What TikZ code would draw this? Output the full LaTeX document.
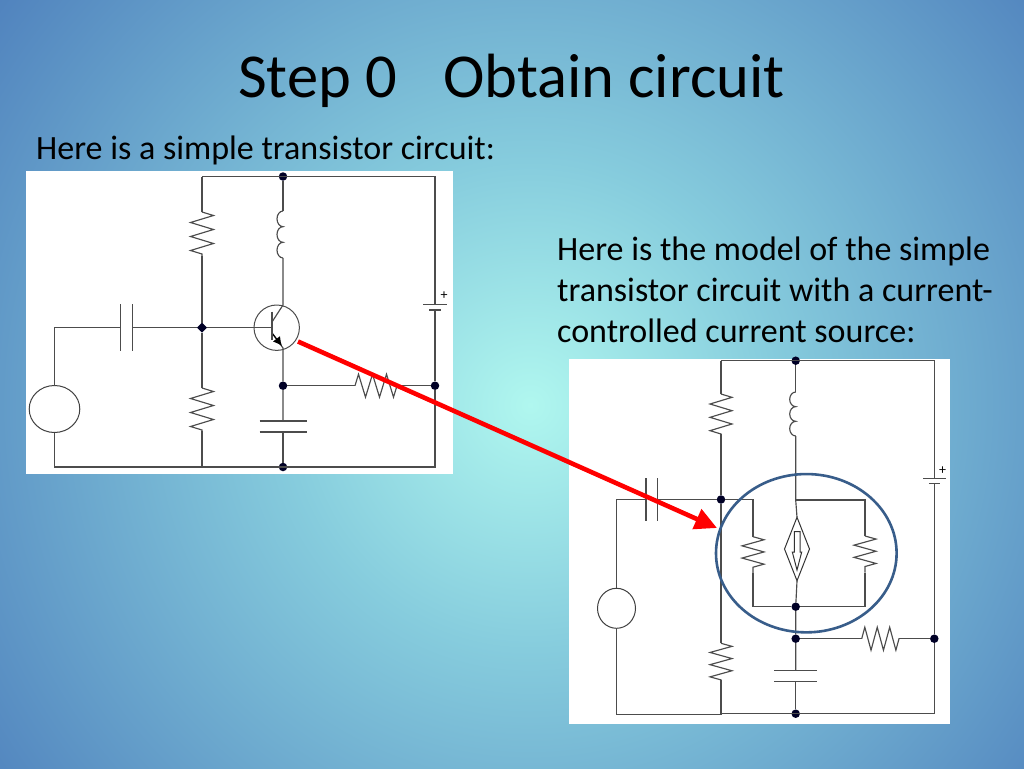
\documentclass[tikz,border=0pt]{standalone}
\usepackage{fontspec}
\setmainfont{Carlito}
\usetikzlibrary{arrows.meta,calc,decorations.pathmorphing,shapes.geometric}
\definecolor{glowin}{HTML}{B0F7EF}
\definecolor{glowmid}{HTML}{86CCDD}
\definecolor{glowout}{HTML}{4F81BD}
\definecolor{ringblue}{HTML}{385D8A}
\pgfdeclareradialshading{slideglow}{\pgfpoint{0bp}{0bp}}{
  color(0bp)=(glowin);
  color(9bp)=(glowmid);
  color(25bp)=(glowout);
  color(50bp)=(glowout)
}
\tikzstyle{wire}=[
  draw=black!70,
  line width=1.15pt,
]
\tikzstyle{dot}=[
  circle,
  fill=black!85!blue,
  inner sep=0pt,
  minimum size=8.5pt,
  outer sep=0pt,
]
\tikzstyle{source}=[
  draw=black!75,
  ellipse,
  fill=white,
  inner sep=0pt,
  line width=1pt,
  outer sep=0pt,
]
\tikzstyle{res}=[
  wire,
  decorate,
  decoration={zigzag,amplitude=11.5pt,segment length=14pt},
]
\tikzstyle{bump}=[
  start angle=270,
  end angle=90,
  x radius=6,
]
\tikzstyle{headline}=[
  anchor=base west,
  font=\fontsize{62.5}{70}\selectfont,
  inner sep=0pt,
]
\tikzstyle{bodytext}=[
  align=left,
  anchor=north west,
  font=\fontsize{34}{41}\selectfont,
  inner sep=0pt,
]
\tikzstyle{plus}=[
  font=\fontsize{14}{14}\selectfont,
  inner sep=0pt,
]
\begin{document}
\begin{tikzpicture}[x=1pt,y=-1pt]
  \useasboundingbox (0,0) rectangle (1024,768);
  \begin{scope}
    \clip (0,0) rectangle (1024,768);
    \shade [shading=slideglow] (530,405) circle (680);
  \end{scope}
  \node (title) [headline] at (238,97) {Step 0\hspace{32pt} Obtain circuit};
  \node (intro) [bodytext, anchor=base west] at (36,159) {Here is a simple transistor circuit:};
  \node (modeltext) [bodytext] at (557,236.5) {Here is the model of the simple\\transistor circuit with a current-\\controlled current source:};
  % left circuit
  \fill [white] (26,171) rectangle (453,474);
  \node (ltop) [dot] at (283,176.5) {};
  \node (lbase) [dot, diamond, minimum size=10pt] at (202,327.7) {};
  \node (lemit) [dot] at (283,385.7) {};
  \node (lbat) [dot] at (435,385.7) {};
  \node (lbot) [dot] at (283,467) {};
  \node (lsrc) [source, minimum width=50.6pt, minimum height=47pt] at (54.5,409) {};
  \coordinate (lrin) at (202,176.5);
  \coordinate (lrir) at (435,176.5);
  \coordinate (lrbl) at (54.5,467);
  \coordinate (lrbr) at (435,467);
  \coordinate (lr1a) at (202,212);
  \coordinate (lr1b) at (202,256);
  \coordinate (lr2a) at (202,388);
  \coordinate (lr2b) at (202,431);
  \coordinate (lr3a) at (355,385.7);
  \coordinate (lr3b) at (397,385.7);
  \coordinate (lc1a) at (283,211);
  \coordinate (lc1b) at (283,258);
  \coordinate (lcap1) at (120.7,327.7);
  \coordinate (lcap2) at (132.7,327.7);
  \coordinate (lcap3) at (283,421);
  \coordinate (lcap4) at (283,432);
  \coordinate (lbat1) at (435,304.3);
  \coordinate (lbat2) at (435,310);
  \coordinate (lbar) at (272,327.7);
  \coordinate (lcoll) at (283,305);
  \coordinate (lem) at (283,348);
  \coordinate (lred) at (298,341.5);
  \draw [wire] (lrin) -- (lrir) -- (lbat1);
  \draw [wire] (lbat2) -- (lbat) -- (lrbr) -- (lrbl) -- (lsrc.south);
  \draw [wire] (lsrc.north) |- (lcap1);
  \draw [wire] (lcap2) -- (lbase) -- (lbar);
  \draw [wire] (lrin) -- (lr1a);
  \draw [res] (lr1a) -- (lr1b);
  \draw [wire] (lr1b) -- (lbase) -- (lr2a);
  \draw [res] (lr2a) -- (lr2b);
  \draw [wire] (lr2b) -- (202,467);
  \draw [wire] (ltop) -- (lc1a);
  \draw [wire] (lc1a) foreach \i in {1,2,3} {arc [bump, y radius=7.83]};
  \draw [wire] (lc1b) -- (lcoll) -- (272,322);
  \draw [wire] (272,333) -- (lem) -- (lemit) -- (lcap3);
  \draw [-{Latex[length=9pt,width=9pt]}, wire, draw=black] (272,333) -- (282,346);
  \draw [wire] (lcap4) -- (lbot);
  \draw [wire] (lemit) -- (lr3a);
  \draw [res, decoration={zigzag,amplitude=11.5pt,segment length=14pt}] (lr3a) -- (lr3b);
  \draw [wire] (lr3b) -- (lbat);
  \draw [wire, line width=1pt] (276.7,327.7) circle (22.7);
  \draw [wire, line width=1.4pt] (272,311.7) -- (272,340);
  \draw [wire] ($(lcap1)+(0,-23.7)$) -- ($(lcap1)+(0,23.7)$);
  \draw [wire] ($(lcap2)+(0,-23.7)$) -- ($(lcap2)+(0,23.7)$);
  \draw [wire] ($(lcap3)+(-23.5,0)$) -- ($(lcap3)+(23.5,0)$);
  \draw [wire] ($(lcap4)+(-23.5,0)$) -- ($(lcap4)+(23.5,0)$);
  \draw [wire] ($(lbat1)+(-12,0)$) -- ($(lbat1)+(12,0)$);
  \draw [wire] ($(lbat2)+(-6,0)$) -- ($(lbat2)+(6,0)$);
  \node (lplus) [plus] at (444,296) {+};
  % right circuit
  \fill [white] (569,359) rectangle (950,724);
  \node (rtop) [dot] at (795.7,360.7) {};
  \node (rbase) [dot] at (721,499.5) {};
  \node (rmid) [dot] at (795.7,606.7) {};
  \node (remit) [dot] at (795.7,638.7) {};
  \node (rbat) [dot] at (934.3,638.7) {};
  \node (rbot) [dot] at (795.7,713.7) {};
  \node (rsrc) [source, minimum width=38pt, minimum height=40pt] at (616.5,608.3) {};
  \node (rdep) [diamond, draw=black!80, inner sep=0pt, line width=1pt, minimum width=25pt, minimum height=63.5pt, outer sep=0pt, aspect=.4] at (797,549) {};
  \coordinate (rrin) at (721,360.7);
  \coordinate (rrir) at (934.3,360.7);
  \coordinate (rrbl) at (616.5,714.5);
  \coordinate (rrbr) at (934.3,713.7);
  \coordinate (rr1a) at (721,394);
  \coordinate (rr1b) at (721,434);
  \coordinate (rr2a) at (721,643.3);
  \coordinate (rr2b) at (721,680);
  \coordinate (rr3a) at (861.7,638.7);
  \coordinate (rr3b) at (899,638.7);
  \coordinate (rr4a) at (753,536.7);
  \coordinate (rr4b) at (753,573);
  \coordinate (rr5a) at (865,536);
  \coordinate (rr5b) at (865,572.5);
  \coordinate (rc1a) at (795.7,392);
  \coordinate (rc1b) at (795.7,436);
  \coordinate (rcap1) at (646,499.5);
  \coordinate (rcap2) at (657.3,499.5);
  \coordinate (rcap3) at (795.7,670.7);
  \coordinate (rcap4) at (795.7,681.7);
  \coordinate (rbat1) at (934.3,478.3);
  \coordinate (rbat2) at (934.3,483.5);
  \coordinate (rbt) at (795.7,500);
  \draw [wire] (rrin) -- (rrir) -- (rbat1);
  \draw [wire] (rbat2) -- (rbat) -- (rrbr) -- (721,713.7);
  \draw [wire] (721,714.5) -- (rrbl) -- (rsrc.south);
  \draw [wire] (rsrc.north) |- (rcap1);
  \draw [wire] (rcap2) -- (rbase) -- (753,499.5) -- (rr4a);
  \draw [wire] (rrin) -- (rr1a);
  \draw [res, decoration={zigzag,amplitude=11pt,segment length=13.33pt}] (rr1a) -- (rr1b);
  \draw [wire] (rr1b) -- (rbase) -- (rr2a);
  \draw [res, decoration={zigzag,amplitude=11pt,segment length=12.2pt}] (rr2a) -- (rr2b);
  \draw [wire] (rr2b) -- (721,714.5);
  \draw [wire] (rtop) -- (rc1a);
  \draw [wire] (rc1a) foreach \i in {1,2,3} {arc [bump, y radius=7.33]};
  \draw [wire] (rc1b) -- (rbt) -- (rdep.north);
  \draw [wire] (rbt) -- (865,500) -- (rr5a);
  \draw [res, decoration={zigzag,amplitude=11pt,segment length=12.2pt}] (rr4a) -- (rr4b);
  \draw [res, decoration={zigzag,amplitude=11pt,segment length=12.2pt}] (rr5a) -- (rr5b);
  \draw [wire] (rr4b) -- (753,606.7) -- (rmid);
  \draw [wire] (rr5b) -- (865,606.7) -- (rmid);
  \draw [wire] (rdep.south) -- (rmid) -- (remit) -- (rcap3);
  \draw [wire] (rcap4) -- (rbot);
  \draw [wire] (remit) -- (rr3a);
  \draw [res, decoration={zigzag,amplitude=11.5pt,segment length=12.43pt}] (rr3a) -- (rr3b);
  \draw [wire] (rr3b) -- (rbat);
  \draw [draw=black!80, line width=1pt] (794.3,531.7) -- (800,531.7) -- (800,552) -- (801.7,552) -- (797,570) -- (792.3,552) -- (794.3,552) -- cycle;
  \draw [wire] ($(rcap1)+(0,-21.3)$) -- ($(rcap1)+(0,21.5)$);
  \draw [wire] ($(rcap2)+(0,-21.3)$) -- ($(rcap2)+(0,21.5)$);
  \draw [wire] ($(rcap3)+(-21.5,0)$) -- ($(rcap3)+(21.5,0)$);
  \draw [wire] ($(rcap4)+(-21.5,0)$) -- ($(rcap4)+(21.5,0)$);
  \draw [wire] ($(rbat1)+(-11.3,0)$) -- ($(rbat1)+(11.3,0)$);
  \draw [wire] ($(rbat2)+(-5.5,0)$) -- ($(rbat2)+(5.5,0)$);
  \node (rplus) [plus] at (942.7,470.7) {+};
  \node (ring) [draw=ringblue, ellipse, inner sep=0pt, line width=2.6pt, minimum width=180.6pt, minimum height=158.3pt] at (806.3,553.2) {};
  \coordinate (rtip) at (717,528);
  \draw [-{Triangle[length=22pt,width=21pt]}, draw=red, fill=red, line width=4.6pt] (lred) -- (rtip);
\end{tikzpicture}
\end{document}
